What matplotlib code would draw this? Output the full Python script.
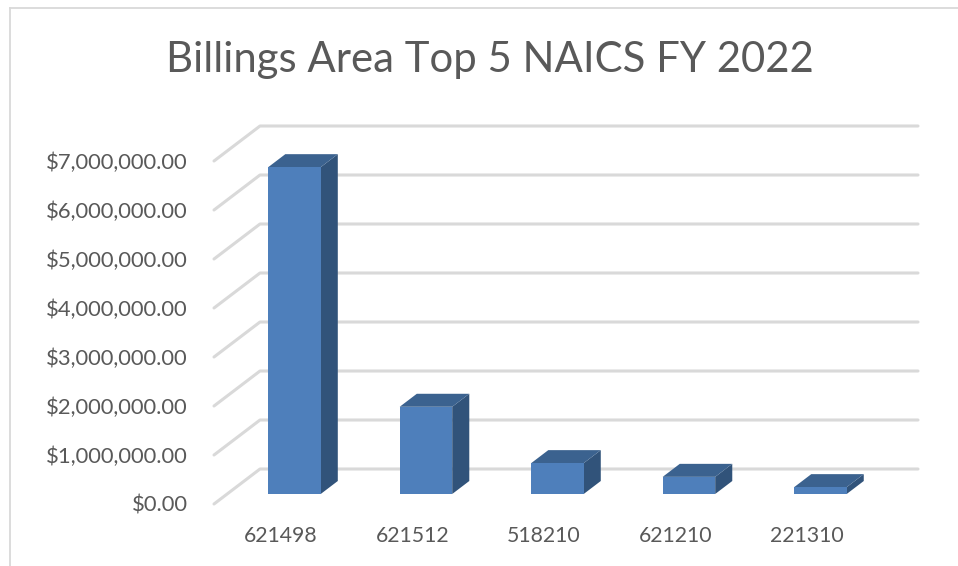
import matplotlib
matplotlib.use('Agg')
import matplotlib.pyplot as plt
from matplotlib.lines import Line2D

title = 'Billings Area Top 5 NAICS FY 2022'
naics = ['621498', '621512', '518210', '621210', '221310']
amounts = [6670000, 1780000, 630000, 350000, 140000]
y_ticks = [0, 1000000, 2000000, 3000000, 4000000, 5000000, 6000000, 7000000]

plt.rcParams['font.family'] = ['Lato', 'DejaVu Sans']
text_color = '#595959'
grid_color = '#d9d9d9'
W, H = 958, 566

fig = plt.figure(figsize=(W / 100, H / 100), dpi=100, facecolor='white')
ax = fig.add_axes([214 / W, (H - 504) / H, (918 - 214) / W, (504 - 126) / H])
ax.patch.set_visible(False)

# one category is 131.5 px, one million is 49 px
x_min, x_max = -0.51, 4.844
wall_dx = 46 / 131.5
wall_dy = 35 / 49 * 1000000
ax.set_xlim(x_min, x_max)
ax.set_ylim(0, 7000000 + wall_dy)

# side wall and back wall lines
for v in y_ticks:
    ax.plot([x_min, x_min + wall_dx, x_max], [v, v + wall_dy, v + wall_dy],
            color=grid_color, lw=2.2, zorder=1, clip_on=False,
            solid_capstyle='round', solid_joinstyle='round')

# pseudo 3D bars, the box sits between these depths of the floor
bar_w = 52.5 / 131.5
near, far = 10 / 35, 23 / 35
for i, val in enumerate(amounts):
    x0 = i - bar_w / 2 + near * wall_dx + 0.002
    x1 = x0 + bar_w
    y0 = near * wall_dy
    y1 = y0 + val
    ox = (far - near) * wall_dx
    oy = (far - near) * wall_dy
    ax.fill([x1, x1 + ox, x1 + ox, x1], [y0, y0 + oy, y1 + oy, y1], color='#31537a', lw=0, zorder=3)
    ax.fill([x0, x1, x1 + ox, x0 + ox], [y1, y1, y1 + oy, y1 + oy], color='#3b628f', lw=0, zorder=3)
    ax.fill([x0, x1, x1, x0], [y0, y0, y1, y1], color='#4e7fbb', lw=0, zorder=4)

ax.set_xticks(range(len(naics)))
ax.set_xticklabels(naics)
ax.set_yticks(y_ticks)
ax.set_yticklabels(['${:,.2f}'.format(v) for v in y_ticks])
ax.tick_params(axis='x', length=0, pad=16, labelsize=15.3, labelcolor=text_color)
ax.tick_params(axis='y', length=0, pad=19, labelsize=15.8, labelcolor=text_color)
for s in ax.spines.values():
    s.set_visible(False)

# outer chart frame, only top and left show
fig.add_artist(Line2D([10 / W, 10 / W], [0, 1 - 8 / H], color=grid_color, lw=1.3))
fig.add_artist(Line2D([10 / W, 1], [1 - 8 / H, 1 - 8 / H], color=grid_color, lw=1.3))

fig.text(490 / W, 1 - 60 / H, title, ha='center', va='center', fontsize=30.2, color=text_color)

fig.savefig('out.png', dpi=100)
